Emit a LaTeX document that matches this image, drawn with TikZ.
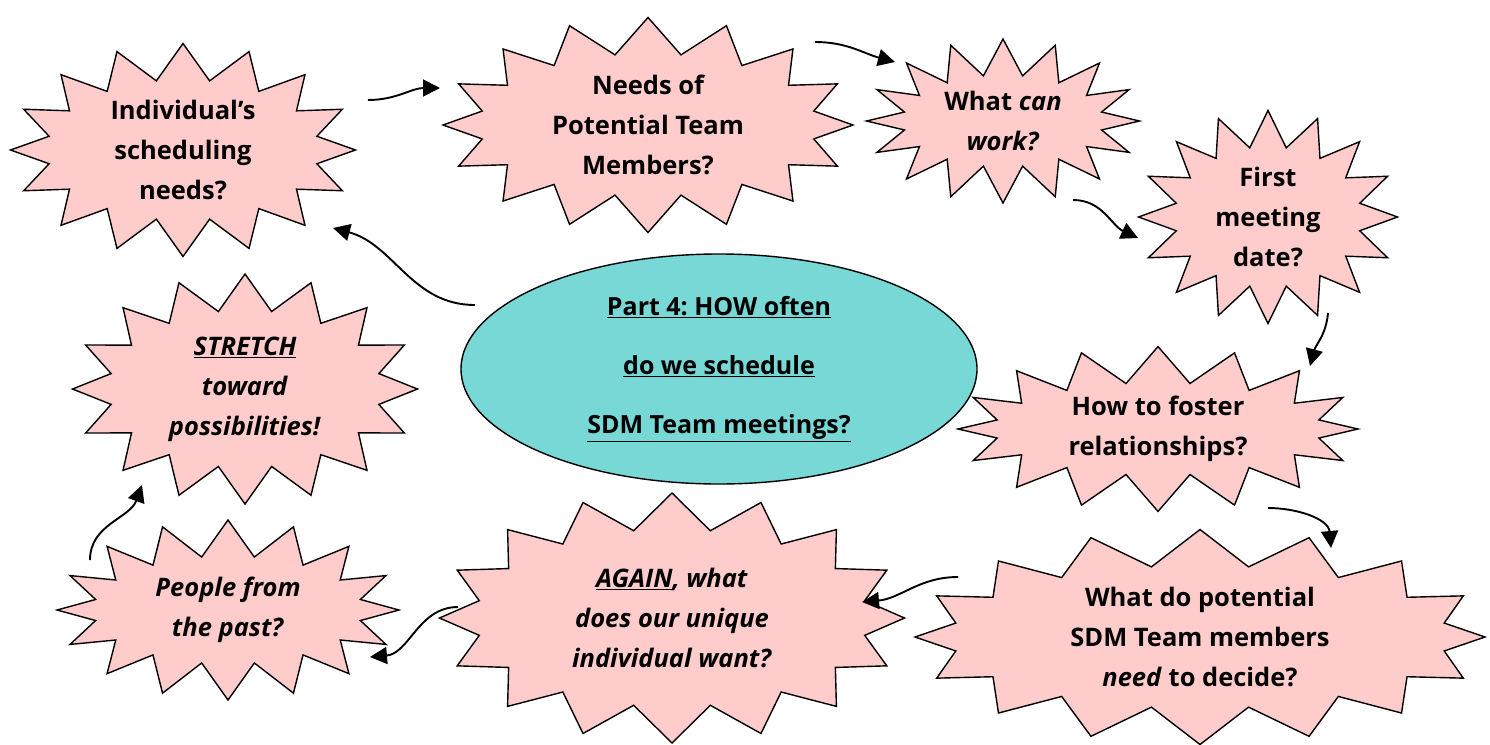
\documentclass[tikz,border=0pt]{standalone}
\usepackage{fontspec}
\setmainfont{Open Sans}
\usepackage{tikz}
\usetikzlibrary{shapes, arrows.meta, positioning}
\frenchspacing

\definecolor{burstpink}{RGB}{255,204,204}
\definecolor{hubteal}{RGB}{120,216,214}

\tikzset{
  burst/.style={starburst, starburst points=16, random starburst=0,
    starburst point height=36pt, draw=black, fill=burstpink, line width=1.4pt,
    align=center, inner sep=0pt, font=\bfseries\fontsize{25.5}{40}\selectfont},
  hub/.style={ellipse, draw=black, fill=hubteal, line width=1.4pt,
    align=center, inner sep=0pt, font=\bfseries\fontsize{25}{59}\selectfont},
  flow/.style={-{Triangle[length=17pt, width=17pt]}, line width=1.9pt},
}

\begin{document}
\begin{tikzpicture}[x=1pt, y=-1pt]
        \useasboundingbox (0,0) rectangle (1490,744);
        % the hub
        \node[hub, minimum width=516pt, minimum height=230pt] (hub) at (719,369)
            {\underline{Part 4: HOW often}\\ \underline{do we schedule}\\ \underline{SDM Team meetings?}};
        % the bursts
        \node[burst, minimum width=345pt, minimum height=205pt] (indiv) at (183,150)
            {Individual’s\\scheduling\\needs?};
        \node[burst, minimum width=410pt, minimum height=215pt] (needs) at (648,125)
            {Needs of\\Potential Team\\Members?};
        \node[burst, minimum width=273pt, minimum height=164pt] (canwork) at (1003,121)
            {What \textit{can}\\\textit{work?}};
        \node[burst, minimum width=259pt, minimum height=195pt] (firstdate) at (1268,217)
            {First\\meeting\\date?};
        \node[burst, minimum width=400pt, minimum height=162pt] (foster) at (1158,429)
            {How to foster\\relationships?};
        \node[burst, minimum width=570pt, minimum height=215pt] (decide) at (1200,637)
            {What do potential\\SDM Team members\\\textit{need} to decide?};
        \node[burst, minimum width=465pt, minimum height=250pt] (again) at (672,618)
            {\textit{\underline{AGAIN}, what}\\\textit{does our unique}\\\textit{individual want?}};
        \node[burst, minimum width=342pt, minimum height=180pt] (past) at (228,610)
            {\textit{People from}\\\textit{the past?}};
        \node[burst, minimum width=345pt, minimum height=230pt] (stretch) at (245,389)
            {\textit{\underline{STRETCH}}\\\textit{toward}\\\textit{possibilities!}};
        % arrow ends
        \coordinate (indiv-out) at (368,100);
        \coordinate (needs-in) at (440,88);
        \coordinate (needs-out) at (815,42);
        \coordinate (canwork-in) at (895,62);
        \coordinate (canwork-out) at (1073,200);
        \coordinate (firstdate-in) at (1138,238);
        \coordinate (firstdate-out) at (1328,313);
        \coordinate (foster-in) at (1310,366);
        \coordinate (foster-out) at (1268,508);
        \coordinate (decide-in) at (1331,548);
        \coordinate (decide-out) at (958,577);
        \coordinate (again-in) at (862,602);
        \coordinate (again-out) at (458,607);
        \coordinate (past-in) at (370,657);
        \coordinate (past-out) at (90,560);
        \coordinate (stretch-in) at (142,485);
        \coordinate (hub-out) at (475,305);
        \coordinate (indiv-in) at (333,228);
        % the flow
        \draw[flow] (indiv-out) to[out=0, in=180] (needs-in);
        \draw[flow] (needs-out) to[out=0, in=165] (canwork-in);
        \draw[flow] (canwork-out) to[out=0, in=155] (firstdate-in);
        \draw[flow] (firstdate-out) to[out=-95, in=75] (foster-in);
        \draw[flow] (foster-out) to[out=0, in=95] (decide-in);
        \draw[flow] (decide-out) to[out=180, in=5] (again-in);
        \draw[flow] (again-out) to[out=180, in=5] (past-in);
        \draw[flow] (past-out) to[out=90, in=-110] (stretch-in);
        \draw[flow] (hub-out) to[out=180, in=-15] (indiv-in);
\end{tikzpicture}
\end{document}
